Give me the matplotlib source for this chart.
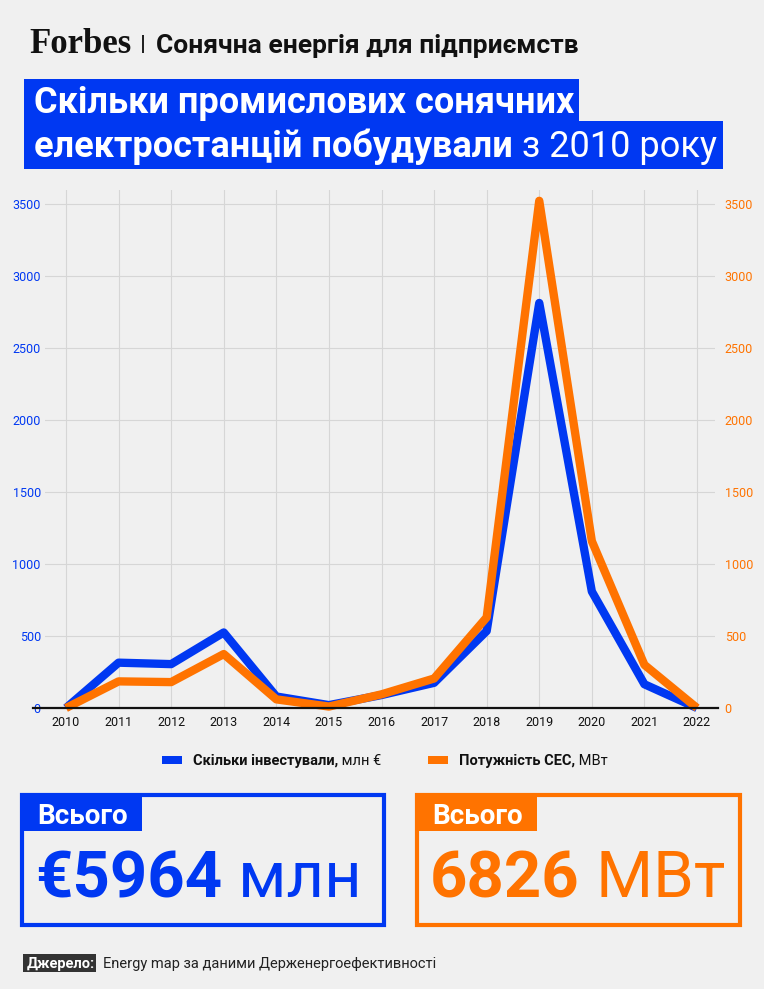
import matplotlib
matplotlib.use("Agg")
import matplotlib.pyplot as plt
from matplotlib.patches import Rectangle
import numpy as np

plt.rcParams['font.family'] = ['Roboto', 'DejaVu Sans']

years = [str(y) for y in range(2010, 2023)]
invest = [0, 315, 305, 525, 80, 20, 90, 175, 535, 2815, 810, 165, 0]
capacity = [0, 185, 180, 375, 60, 10, 95, 205, 630, 3525, 1160, 300, 0]
yticks = [0, 500, 1000, 1500, 2000, 2500, 3000, 3500]

header_brand = "Forbes"
header_topic = "Сонячна енергія для підприємств"
title1 = "Скільки промислових сонячних"
title2_bold = "електростанцій побудували"
title2_reg = " з 2010 року"
legend1 = ("Скільки інвестували,", " млн €")
legend2 = ("Потужність СЕС,", " МВт")
total_label = "Всього"
total1 = ("€5964", " млн")
total2 = ("6826", " МВт")
source_label = "Джерело:"
source_text = "Energy map за даними Держенергоефективності"

BLUE = '#0038F2'
ORANGE = '#FF7300'
BG = '#F0F0F0'
W, H = 764, 989

fig = plt.figure(figsize=(W / 100, H / 100), dpi=100)
fig.patch.set_facecolor(BG)


def fx(x):
    return x / W


def fy(y):
    return 1 - y / H


def rect(x0, y0, x1, y1, **kw):
    r = Rectangle((fx(x0), fy(y1)), fx(x1) - fx(x0), fy(y0) - fy(y1),
                  transform=fig.transFigure, **kw)
    fig.add_artist(r)
    return r


renderer = fig.canvas.get_renderer()


def run(x, y, parts, va='baseline'):
    """Place text parts one after another from pixel x."""
    cur = x
    for s, kw in parts:
        t = fig.text(fx(cur), fy(y), s, va=va, ha='left', **kw)
        bb = t.get_window_extent(renderer=renderer)
        cur += bb.width
    return cur


# Header
fig.text(fx(29), fy(53), header_brand, family='Liberation Serif', fontweight='bold',
         fontsize=25, color='#111111', va='baseline')
rect(142, 35, 143.5, 53, facecolor='#222222', edgecolor='none')
fig.text(fx(156), fy(53), header_topic, fontweight='bold', fontsize=19,
         color='#111111', va='baseline')

# Title boxes
rect(24, 79, 579, 122, facecolor=BLUE, edgecolor='none')
rect(24, 121, 723, 169, facecolor=BLUE, edgecolor='none')
fig.text(fx(34), fy(113), title1, fontweight='bold', fontsize=26, color='white',
         va='baseline')
run(34, 157, [(title2_bold, dict(fontweight='bold', fontsize=26, color='white')),
              (title2_reg, dict(fontweight='normal', fontsize=26, color='white'))])

# Chart
ax = fig.add_axes([fx(45), fy(708), fx(715) - fx(45), fy(190) - fy(708)])
ax.set_facecolor('none')
x = np.arange(len(years))
ax.set_xlim(-(66 - 45) / 52.58, 12 + (715 - 697) / 52.58)
ax.set_ylim(0, 3600)
ax.set_yticks(yticks)
ax.set_yticklabels([str(v) for v in yticks])
ax.set_xticks(x)
ax.set_xticklabels(years)
ax.grid(True, color='#d6d6d6', lw=0.8)
ax.set_axisbelow(True)
for s in ax.spines.values():
    s.set_visible(False)
ax.tick_params(axis='y', length=0, pad=3, labelcolor=BLUE, labelsize=9)
ax.tick_params(axis='x', length=0, pad=6, labelcolor='#111111', labelsize=9)

ax2 = ax.twinx()
ax2.set_ylim(0, 3600)
ax2.set_yticks(yticks)
ax2.set_yticklabels([str(v) for v in yticks])
ax2.tick_params(axis='y', length=0, pad=7, labelcolor=ORANGE, labelsize=9)
for s in ax2.spines.values():
    s.set_visible(False)

ax2.plot(x, invest, color=BLUE, lw=6, clip_on=False, solid_joinstyle='round',
         solid_capstyle='butt', zorder=3)
ax2.plot(x, capacity, color=ORANGE, lw=6, clip_on=False, solid_joinstyle='round',
         solid_capstyle='butt', zorder=4)

# baseline
fig.add_artist(plt.Line2D([fx(33), fx(718)], [fy(708), fy(708)], color='#111111',
                          lw=1.6, transform=fig.transFigure, zorder=2))

# Legend
rect(162, 756, 182, 764, facecolor=BLUE, edgecolor='none')
run(193, 765, [(legend1[0], dict(fontweight='bold', fontsize=10.5, color='#111111')),
               (legend1[1], dict(fontweight='normal', fontsize=10.5, color='#111111'))])
rect(428, 756, 448, 764, facecolor=ORANGE, edgecolor='none')
run(459, 765, [(legend2[0], dict(fontweight='bold', fontsize=10.5, color='#111111')),
               (legend2[1], dict(fontweight='normal', fontsize=10.5, color='#111111'))])

# Total boxes
for (x0, x1, col, vals) in [(22, 384, BLUE, total1), (417, 740, ORANGE, total2)]:
    rect(x0, 795, x1, 925, facecolor='none', edgecolor=col, lw=3)
    rect(x0 - 1.5, 793.5, x0 + 120, 831, facecolor=col, edgecolor='none')
    fig.text(fx(x0 + 15), fy(824), total_label, fontweight='bold', fontsize=20,
             color='white', va='baseline')
    run(x0 + 13, 897, [(vals[0], dict(fontweight='bold', fontsize=47, color=col)),
                       (vals[1], dict(fontweight='normal', fontsize=47, color=col))])

# Source
rect(23, 954, 96, 972, facecolor='#333333', edgecolor='none')
fig.text(fx(27), fy(968), source_label, fontweight='bold', fontsize=10.5,
         color='white', va='baseline')
fig.text(fx(103), fy(968), source_text, fontweight='normal', fontsize=10.5,
         color='#222222', va='baseline')

fig.savefig('out.png', dpi=100, facecolor=BG)
